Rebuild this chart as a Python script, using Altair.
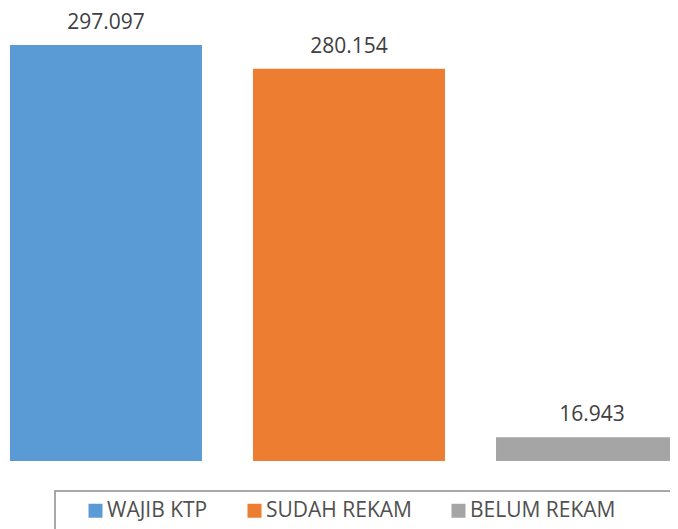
import altair as alt
import pandas as pd

categories = ["WAJIB KTP", "SUDAH REKAM", "BELUM REKAM"]
values = [297097, 280154, 16943]
colors = ["#5B9BD5", "#ED7D31", "#A5A5A5"]

labels = [f"{v:,}".replace(",", ".") for v in values]
df = pd.DataFrame({"cat": categories, "val": values, "label": labels})

ymax = values[0] * 453 / 416

x = alt.X("cat:N", sort=categories, axis=None,
          scale=alt.Scale(range=[2, 680], paddingInner=0.21, paddingOuter=0))
y = alt.Y("val:Q", axis=None, scale=alt.Scale(domain=[0, ymax], nice=False, zero=True))

bars = alt.Chart(df).mark_bar().encode(
    x=x, y=y,
    color=alt.Color("cat:N", sort=categories,
                    scale=alt.Scale(domain=categories, range=colors),
                    legend=alt.Legend(title=" ", titleOrient="right", titlePadding=90,
                                      titleFontSize=10,
                                      orient="none", direction="horizontal",
                                      legendX=47, legendY=483, padding=9,
                                      strokeColor="#8c8c8c",
                                      symbolType="square", symbolSize=196,
                                      symbolStrokeWidth=0, symbolOffset=21,
                                      labelFont="Open Sans", labelFontSize=21,
                                      labelColor="#505050", labelOffset=1,
                                      columnPadding=15, labelLimit=300)),
)

text = alt.Chart(df).mark_text(baseline="alphabetic", dy=-16, font="Open Sans",
                               fontSize=21, color="#404040").encode(
    x=x, y=y, text="label:N")

chart = (bars + text).properties(
    width=662, height=453,
    autosize=alt.AutoSizeParams(type="none"),
    padding={"left": 0, "top": 0, "right": 0, "bottom": 68},
).configure_view(stroke=None).configure_legend(strokeWidth=1.5)

chart.save("out.html", embed_options={"renderer": "svg", "actions": False})
